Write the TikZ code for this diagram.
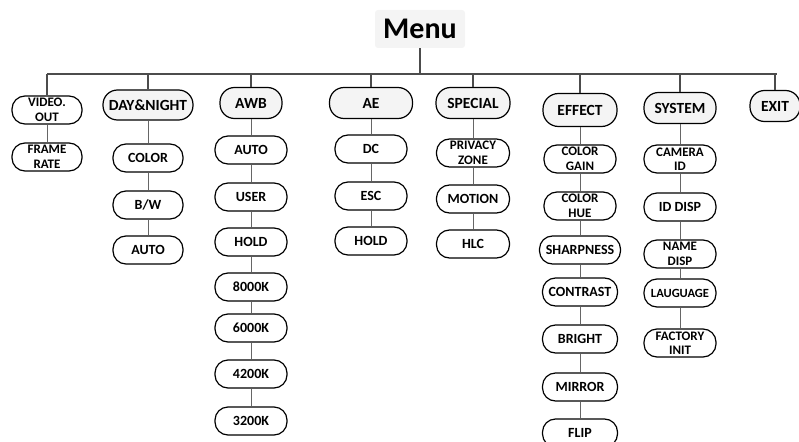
\documentclass[tikz,border=0pt]{standalone}
\usepackage{fontspec}
\setmainfont{Carlito}
\begin{document}
\begin{tikzpicture}[x=1pt,y=-1pt,
  item/.style={draw=black, line width=1.2pt, rounded corners=13pt, fill=white,
    minimum width=72pt, minimum height=28pt, inner sep=1pt, align=center,
    font=\bfseries\fontsize{14}{15}\selectfont},
  head/.style={item, fill=gray!9, minimum height=31pt, rounded corners=14.5pt,
    font=\bfseries\fontsize{15.5}{17}\selectfont},
  twoline/.style={inner sep=0pt, font=\bfseries\fontsize{13}{14.5}\selectfont},
  link/.style={draw=black!60, line width=0.9pt},
  bus/.style={draw=black!70, line width=1.1pt}]
\useasboundingbox (0,0) rectangle (799,441);
\clip (0,0) rectangle (799,441);

% title
\node[fill=gray!9, rounded corners=3pt, minimum width=90pt, minimum height=38pt,
  font=\bfseries\fontsize{30}{32}\selectfont] (menu) at (420,29) {Menu};

% top level entries
\node[item, minimum width=70pt, twoline] (vo) at (47,110) {VIDEO.\\OUT};
\node[head, minimum width=90pt, minimum height=30pt] (dn) at (148,105) {DAY\&NIGHT};
\node[head, minimum width=62pt] (awb) at (251,103) {AWB};
\node[head, minimum width=83pt] (ae) at (371,103) {AE};
\node[head, minimum width=74pt] (sp) at (473,103) {SPECIAL};
\node[head, minimum width=74pt, minimum height=33pt, rounded corners=15.5pt] (ef) at (580,110) {EFFECT};
\node[head, minimum width=72pt] (sy) at (680,108) {SYSTEM};
\node[head, minimum width=50pt] (ex) at (775,106) {EXIT};

% bus from the title to every entry
\coordinate (busL) at (47,74);
\coordinate (busR) at (777,74);
\draw[bus] (menu.south) -- (menu.south |- busL);
\draw[bus] (busL) -- (busR);
\foreach \n in {vo,dn,awb,ae,sp,ef,sy,ex}
  \draw[bus] (\n.north) -- (\n.north |- busL);

% VIDEO.OUT
\node[item, minimum width=70pt, twoline] (vo1) at (47,157) {FRAME\\RATE};
\draw[link] (vo.south) -- (vo1.north);

% DAY&NIGHT
\node[item, minimum width=70pt] (dn1) at (148,158) {COLOR};
\node[item, minimum width=70pt] (dn2) at (148,205) {B/W};
\node[item, minimum width=70pt] (dn3) at (148,250) {AUTO};
\draw[link] (dn.south) -- (dn1.north);
\draw[link] (dn1.south) -- (dn2.north);
\draw[link] (dn2.south) -- (dn3.north);

% AWB
\node[item] (awb1) at (251,150) {AUTO};
\node[item] (awb2) at (251,197) {USER};
\node[item] (awb3) at (251,242) {HOLD};
\node[item] (awb4) at (251,287) {8000K};
\node[item] (awb5) at (251,328) {6000K};
\node[item] (awb6) at (251,374) {4200K};
\node[item] (awb7) at (251,421) {3200K};
\draw[link] (awb.south) -- (awb1.north);
\draw[link] (awb1.south) -- (awb2.north);
\draw[link] (awb2.south) -- (awb3.north);
\draw[link] (awb3.south) -- (awb4.north);
\draw[link] (awb4.south) -- (awb5.north);
\draw[link] (awb5.south) -- (awb6.north);
\draw[link] (awb6.south) -- (awb7.north);

% AE
\node[item] (ae1) at (371,149) {DC};
\node[item] (ae2) at (371,196) {ESC};
\node[item] (ae3) at (371,241) {HOLD};
\draw[link] (ae.south) -- (ae1.north);
\draw[link] (ae1.south) -- (ae2.north);
\draw[link] (ae2.south) -- (ae3.north);

% SPECIAL
\node[item, minimum width=73pt, twoline] (sp1) at (473,153) {PRIVACY\\ZONE};
\node[item, minimum width=73pt] (sp2) at (473,199) {MOTION};
\node[item, minimum width=73pt] (sp3) at (473,244) {HLC};
\draw[link] (sp.south) -- (sp1.north);
\draw[link] (sp1.south) -- (sp2.north);
\draw[link] (sp2.south) -- (sp3.north);

% EFFECT
\node[item, twoline] (ef1) at (580,159) {COLOR\\GAIN};
\node[item, twoline] (ef2) at (580,206) {COLOR\\HUE};
\node[item, minimum width=81pt] (ef3) at (580,250) {SHARPNESS};
\node[item, minimum width=75pt] (ef4) at (580,292) {CONTRAST};
\node[item, minimum width=75pt] (ef5) at (580,339) {BRIGHT};
\node[item, minimum width=75pt] (ef6) at (580,387) {MIRROR};
\node[item, minimum width=75pt] (ef7) at (580,433) {FLIP};
\draw[link] (ef.south) -- (ef1.north);
\draw[link] (ef1.south) -- (ef2.north);
\draw[link] (ef2.south) -- (ef3.north);
\draw[link] (ef3.south) -- (ef4.north);
\draw[link] (ef4.south) -- (ef5.north);
\draw[link] (ef5.south) -- (ef6.north);
\draw[link] (ef6.south) -- (ef7.north);

% SYSTEM
\node[item, twoline] (sy1) at (680,159) {CAMERA\\ID};
\node[item] (sy2) at (680,207) {ID DISP};
\node[item, twoline] (sy3) at (680,254) {NAME\\DISP};
\node[item, font=\bfseries\fontsize{12.5}{13}\selectfont] (sy4) at (680,293) {LAUGUAGE};
\node[item, twoline] (sy5) at (680,343) {FACTORY\\INIT};
\draw[link] (sy.south) -- (sy1.north);
\draw[link] (sy1.south) -- (sy2.north);
\draw[link] (sy2.south) -- (sy3.north);
\draw[link] (sy3.south) -- (sy4.north);
\draw[link] (sy4.south) -- (sy5.north);
\end{tikzpicture}
\end{document}
